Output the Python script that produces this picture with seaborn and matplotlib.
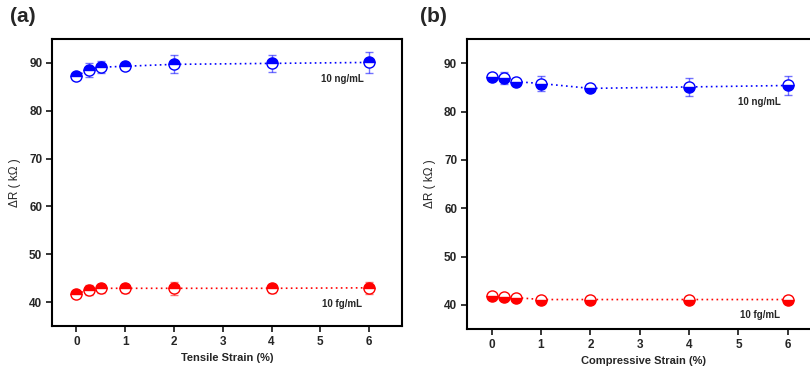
import matplotlib
matplotlib.use("Agg")
import matplotlib.pyplot as plt
import seaborn as sns
import pandas as pd

strain = [0, 0.25, 0.5, 1, 2, 4, 6]

tensile_ng = [87.3, 88.5, 89.1, 89.3, 89.7, 89.9, 90.1]
tensile_ng_err = [0.5, 1.5, 1.2, 0.6, 1.9, 1.8, 2.2]
tensile_fg = [41.8, 42.5, 42.9, 42.9, 42.9, 42.9, 43.0]
tensile_fg_err = [0.5, 1.1, 1.0, 1.0, 1.3, 0.9, 1.25]

comp_ng = [87.1, 86.9, 86.2, 85.8, 84.8, 85.1, 85.4]
comp_ng_err = [0.4, 1.2, 0.5, 1.6, 0.5, 1.8, 2.0]
comp_fg = [41.85, 41.6, 41.5, 41.1, 41.1, 41.1, 41.1]
comp_fg_err = [0.5, 0.5, 0.5, 0.8, 0.8, 0.8, 0.8]

xticks = [0, 1, 2, 3, 4, 5, 6]
yticks = [40, 50, 60, 70, 80, 90]

sns.set_theme(style="ticks")
plt.rcParams['font.family'] = ['Liberation Sans', 'DejaVu Sans']
plt.rcParams['font.weight'] = 'bold'

fig = plt.figure(figsize=(8.1, 3.77), dpi=100)
ax_a = fig.add_axes([0.0642, 0.135, 0.432, 0.7616])
ax_b = fig.add_axes([0.5765, 0.1273, 0.437, 0.769])

BLUE = '#0000ff'
RED = '#ff0000'


def draw(ax, ng, ng_err, fg, fg_err, fill, xlabel):
    for vals, errs, col in [(ng, ng_err, BLUE), (fg, fg_err, RED)]:
        df = pd.DataFrame({'x': strain, 'y': vals})
        ax.errorbar(strain, vals, yerr=errs, fmt='none', ecolor=col, alpha=0.55,
                    elinewidth=1.0, capsize=3, capthick=1.0, zorder=2)
        sns.lineplot(data=df, x='x', y='y', ax=ax, color=col,
                     linestyle=(0, (1, 2)),
                     linewidth=1.2, marker='o', markersize=8, fillstyle=fill,
                     markerfacecolor=col, markerfacecoloralt='white',
                     markeredgecolor=col, markeredgewidth=1.0, zorder=3)
    ax.set_xlim(-0.5, 6.67)
    ax.set_ylim(35, 95)
    ax.set_xticks(xticks)
    ax.set_yticks(yticks)
    ax.set_xlabel(xlabel, fontsize=8, fontweight='bold', labelpad=4)
    ax.set_ylabel('ΔR ( kΩ )', fontsize=8.5, fontweight='normal', labelpad=6)
    ax.tick_params(direction='out', length=4, width=1.3, labelsize=8.5, pad=3)
    for lab in ax.get_xticklabels() + ax.get_yticklabels():
        lab.set_fontweight('bold')
    for s in ax.spines.values():
        s.set_linewidth(1.5)
        s.set_visible(True)
        s.set_color('black')
    return ax


draw(ax_a, tensile_ng, tensile_ng_err, tensile_fg, tensile_fg_err, 'top',
     'Tensile Strain (%)')
draw(ax_b, comp_ng, comp_ng_err, comp_fg, comp_fg_err, 'bottom',
     'Compressive Strain (%)')

ax_a.text(5.44, 86.7, '10 ng/mL', ha='center', va='center', fontsize=7, fontweight='bold')
ax_a.text(5.44, 39.6, '10 fg/mL', ha='center', va='center', fontsize=7, fontweight='bold')
ax_b.text(5.43, 82.0, '10 ng/mL', ha='center', va='center', fontsize=7, fontweight='bold')
ax_b.text(5.43, 37.8, '10 fg/mL', ha='center', va='center', fontsize=7, fontweight='bold')

fig.text(0.012, 0.955, '(a)', fontsize=15, fontweight='bold', ha='left', va='center')
fig.text(0.518, 0.955, '(b)', fontsize=15, fontweight='bold', ha='left', va='center')

fig.savefig('out.png', dpi=100)
